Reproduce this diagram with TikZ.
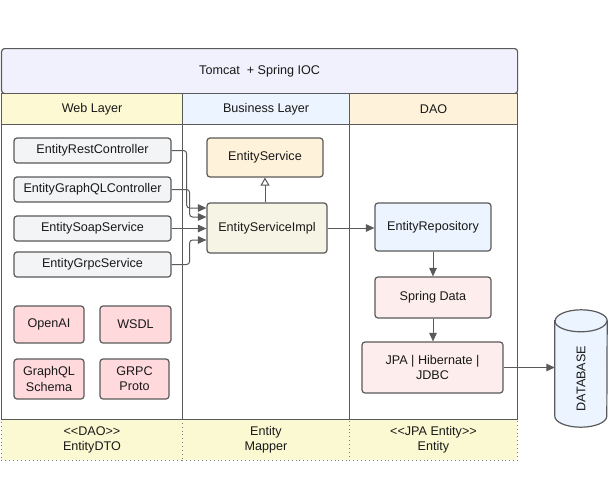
\documentclass[tikz,border=0pt]{standalone}
\usepackage{fontspec}
\setmainfont{Liberation Sans}
\usetikzlibrary{arrows.meta,shapes.geometric}
\definecolor{bordr}{HTML}{5A5A5A}
\definecolor{tomcatc}{HTML}{F1F1FD}
\definecolor{webc}{HTML}{FDFAD3}
\definecolor{busc}{HTML}{EBF4FF}
\definecolor{daoc}{HTML}{FEF2DA}
\definecolor{ctrlc}{HTML}{F3F4F6}
\definecolor{svcc}{HTML}{FFF2DA}
\definecolor{implc}{HTML}{F6F4E4}
\definecolor{repoc}{HTML}{EBF4FF}
\definecolor{datac}{HTML}{FDEDEC}
\definecolor{pinkc}{HTML}{FFD9DC}
\definecolor{botc}{HTML}{FBF9D2}
\definecolor{dbc}{HTML}{EBF4FF}
\begin{document}
\begin{tikzpicture}[x=1pt,y=-1pt,
  every node/.style={font=\fontsize{12.6}{15.2}\selectfont, text=black!90},
  box/.style={draw=bordr, line width=1.2pt, rounded corners=3pt, inner sep=0pt, align=center},
  lane/.style={draw=bordr, line width=1.2pt, inner sep=0pt, anchor=north west, align=center},
  dotbox/.style={draw=bordr!80, line width=0.9pt, dash pattern=on 0.9pt off 3pt, inner sep=0pt, anchor=north west, align=center},
  conn/.style={draw=bordr, line width=1pt, -{Triangle[length=8.5pt,width=7.5pt]}, rounded corners=3pt},
  inh/.style={draw=bordr, line width=1pt, -{Triangle[open, fill=white, length=8pt,width=9pt]}},
]
\useasboundingbox (0,0) rectangle (613,498);
% bottom row
\node[dotbox, fill=botc, minimum width=181pt, minimum height=41pt] (dto) at (1,419) {<\kern0pt<DAO>\kern0pt>\\EntityDTO};
\node[dotbox, fill=botc, minimum width=167pt, minimum height=41pt] (mapper) at (182,419) {Entity\\Mapper};
\node[dotbox, fill=botc, minimum width=168pt, minimum height=41pt] (jpaent) at (349,419) {<\kern0pt<JPA Entity>\kern0pt>\\Entity};
% lanes
\node[lane, fill=white, minimum width=181pt, minimum height=326pt] (weblane) at (1,93) {};
\node[lane, fill=white, minimum width=167pt, minimum height=326pt] (buslane) at (182,93) {};
\node[lane, fill=white, minimum width=168pt, minimum height=326pt] (daolane) at (349,93) {};
% header
\node[lane, fill=tomcatc, rounded corners=3pt, minimum width=516pt, minimum height=45pt] (tomcat) at (1,48) {Tomcat~ + Spring IOC};
\node[lane, fill=webc, minimum width=181pt, minimum height=31pt] (webhdr) at (1,93) {Web Layer};
\node[lane, fill=busc, minimum width=167pt, minimum height=31pt] (bushdr) at (182,93) {Business Layer};
\node[lane, fill=daoc, minimum width=168pt, minimum height=31pt] (daohdr) at (349,93) {DAO};
% web layer
\node[box, fill=ctrlc, minimum width=157pt, minimum height=25pt] (rest) at (92.5,150.5) {EntityRestController};
\node[box, fill=ctrlc, minimum width=157pt, minimum height=25pt] (gql) at (92.5,189.5) {EntityGraphQLController};
\node[box, fill=ctrlc, minimum width=157pt, minimum height=25pt] (soap) at (92.5,228.5) {EntitySoapService};
\node[box, fill=ctrlc, minimum width=157pt, minimum height=25pt] (grpc) at (92.5,264.5) {EntityGrpcService};
\node[box, fill=pinkc, minimum width=70pt, minimum height=37pt] (openai) at (49,324.5) {OpenAI};
\node[box, fill=pinkc, minimum width=71pt, minimum height=37pt] (wsdl) at (135.5,324.5) {WSDL};
\node[box, fill=pinkc, minimum width=70pt, minimum height=40pt] (gqls) at (49,379) {GraphQL\\Schema};
\node[box, fill=pinkc, minimum width=69pt, minimum height=40pt] (grpcp) at (134.5,379) {GRPC\\Proto};
% business layer
\node[box, fill=svcc, minimum width=116pt, minimum height=39pt] (svc) at (265,157.5) {EntityService};
\node[box, fill=implc, minimum width=120pt, minimum height=50pt] (impl) at (267,228) {EntityServiceImpl};
% dao
\node[box, fill=repoc, minimum width=116pt, minimum height=48pt] (repo) at (433,227) {EntityRepository};
\node[box, fill=datac, minimum width=116pt, minimum height=41pt] (sdata) at (433,297.5) {Spring Data};
\node[box, fill=datac, minimum width=141pt, minimum height=51pt] (jpa) at (432.5,367.5) {JPA | Hibernate |\\JDBC};
% database (cylinder)
\node[minimum width=52pt, minimum height=117pt, inner sep=0pt] (db) at (581,368.5) {};
\draw[draw=bordr, line width=1.2pt, fill=dbc]
  ([yshift=-11pt]db.north west) -- ([yshift=11pt]db.south west)
  arc[start angle=180, end angle=0, x radius=26, y radius=11]
  -- ([yshift=-11pt]db.north east)
  arc[start angle=0, end angle=-180, x radius=26, y radius=11] -- cycle;
\draw[draw=bordr, line width=1.2pt]
  ([yshift=-11pt]db.north west) arc[start angle=180, end angle=0, x radius=26, y radius=11];
\node[rotate=90, inner sep=0pt] (dbtext) at ([yshift=-10pt]db.center) {DATABASE};
% connectors
\draw[conn] (rest.east) -- ++(15,0) |- ([yshift=20pt]impl.west);
\draw[conn] (gql.east) -- ++(18,0) |- ([yshift=11pt]impl.west);
\draw[conn] (soap.east) -- (soap.east -| impl.west);
\draw[conn] (grpc.east) -- ++(18,0) |- ([yshift=-12pt]impl.west);
\draw[inh] (impl.north -| svc.south) -- (svc.south);
\draw[conn] (impl.east) -- (impl.east -| repo.west);
\draw[conn] (repo.south) -- (sdata.north);
\draw[conn] (sdata.south) -- (sdata.south |- jpa.north);
\draw[conn] (jpa.east) -- (jpa.east -| db.west);
\end{tikzpicture}
\end{document}
